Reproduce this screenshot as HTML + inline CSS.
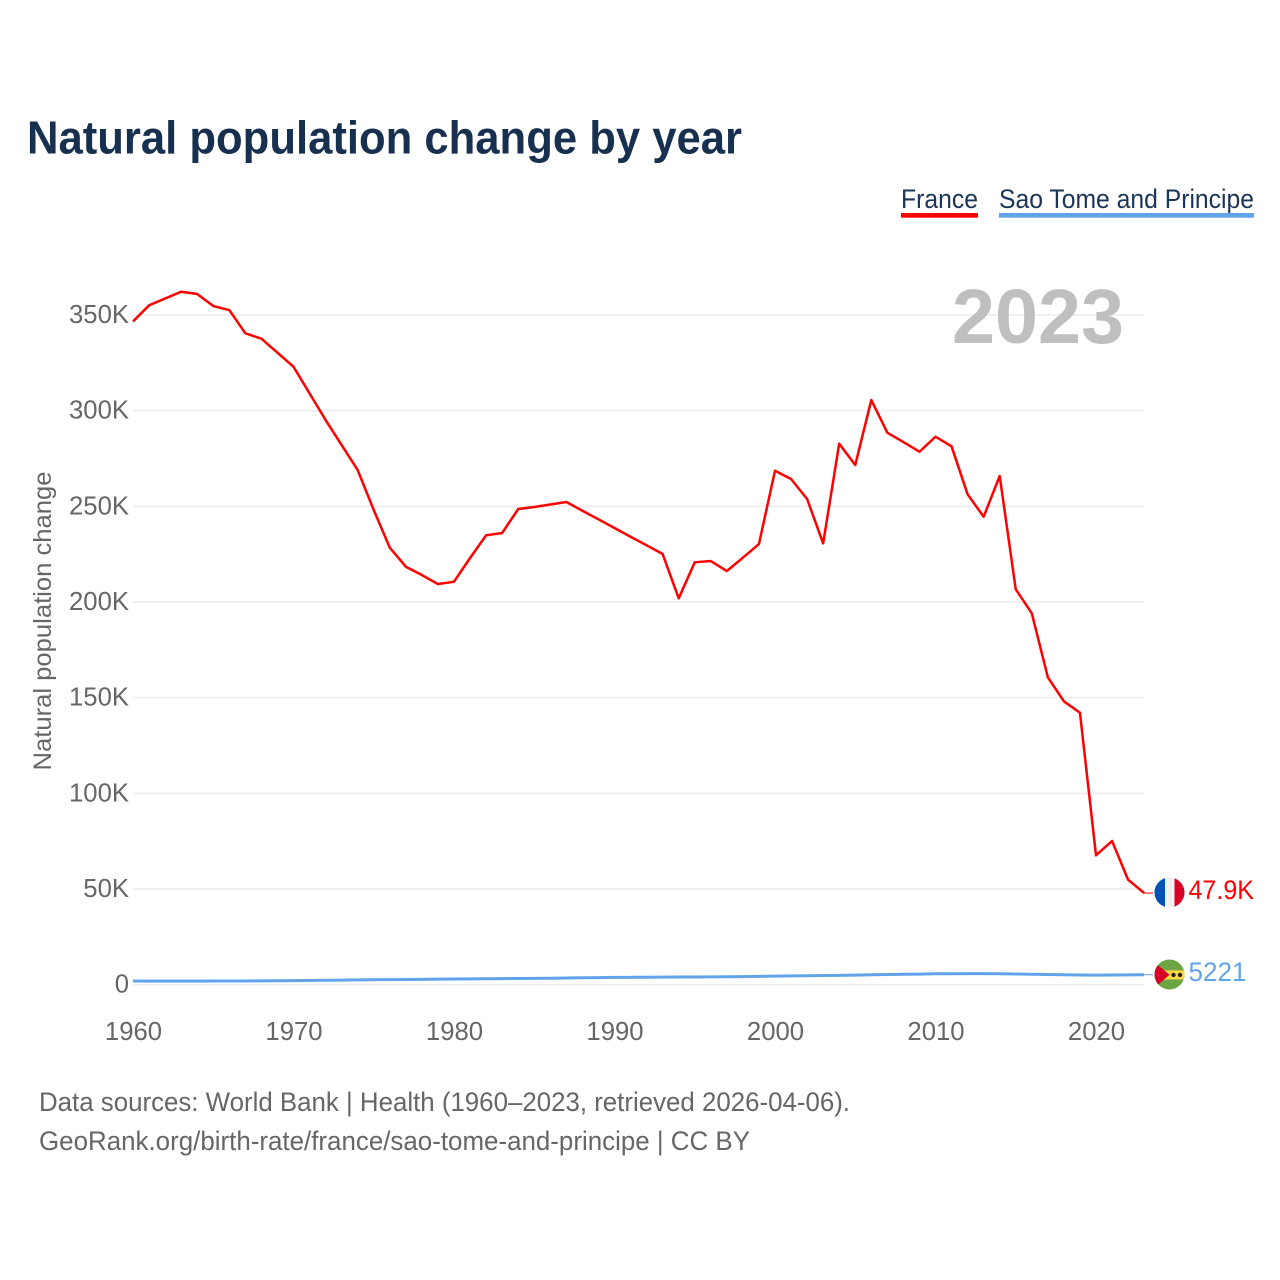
<!DOCTYPE html>
<html lang="en">
<head>
<meta charset="utf-8">
<title>Natural population change by year</title>
<style>
html,body{margin:0;padding:0;background:#fff;width:1280px;height:1280px;overflow:hidden}
svg{display:block;font-family:"Liberation Sans",sans-serif}
</style>
</head>
<body>
<svg id="chart" width="1280" height="1280" viewBox="0 0 1280 1280" xmlns="http://www.w3.org/2000/svg">
  <rect width="1280" height="1280" fill="#fff"/>
  <text x="27" y="153.5" font-size="46" font-weight="700" fill="#17304f" textLength="715" lengthAdjust="spacingAndGlyphs">Natural population change by year</text>

  <g>
    <g>
      <text x="901" y="208" font-size="27" fill="#1a3558" textLength="77" lengthAdjust="spacingAndGlyphs">France</text>
      <rect x="901" y="213" width="77" height="4.7" fill="#ff0000"/>
    </g>
    <g>
      <text x="999" y="208" font-size="27" fill="#1a3558" textLength="255" lengthAdjust="spacingAndGlyphs">Sao Tome and Principe</text>
      <rect x="999" y="213" width="255" height="4.7" fill="#62a4ea"/>
    </g>
  </g>

  <g id="grid"></g>
  <text x="1124" y="343" font-size="77" font-weight="700" fill="#bfbfbf" text-anchor="end" textLength="172" lengthAdjust="spacingAndGlyphs">2023</text>
  <g id="y-labels"></g>
  <g id="x-labels"></g>
  <text transform="translate(51 621) rotate(-90)" font-size="25" fill="#666" text-anchor="middle" textLength="299" lengthAdjust="spacingAndGlyphs">Natural population change</text>

  <g id="series"></g>

  <defs>
    <clipPath id="flag-fr-clip"><circle cx="1169.5" cy="892.5" r="15"/></clipPath>
    <clipPath id="flag-st-clip"><circle cx="1169.5" cy="974.5" r="15"/></clipPath>
  </defs>
  <g clip-path="url(#flag-fr-clip)">
    <rect x="1154" y="877" width="31" height="31" fill="#f0f0f0"/>
    <rect x="1154" y="877" width="11" height="31" fill="#0052b4"/>
    <rect x="1174.5" y="877" width="11" height="31" fill="#d80027"/>
  </g>
  <g clip-path="url(#flag-st-clip)">
    <rect x="1154" y="959" width="31" height="31" fill="#6da544"/>
    <rect x="1154" y="970.4" width="31" height="9" fill="#ffda44"/>
    <polygon points="1154,962 1169.5,974.8 1154,988" fill="#d80027"/>
    <circle cx="1173.5" cy="974.9" r="2.2" fill="#222"/>
    <circle cx="1180" cy="974.9" r="2.2" fill="#222"/>
  </g>
  <text x="1188.5" y="899" font-size="26.5" fill="#ff0000" textLength="65.5" lengthAdjust="spacingAndGlyphs">47.9K</text>
  <text x="1188.5" y="981" font-size="26.5" fill="#62a4ea" textLength="58" lengthAdjust="spacingAndGlyphs">5221</text>

  <text x="39" y="1111" font-size="27" fill="#666" textLength="811" lengthAdjust="spacingAndGlyphs">Data sources: World Bank | Health (1960–2023, retrieved 2026-04-06).</text>
  <text x="39" y="1150" font-size="27" fill="#666" textLength="711" lengthAdjust="spacingAndGlyphs">GeoRank.org/birth-rate/france/sao-tome-and-principe | CC BY</text>
</svg>
<script>
const startYear = 1960;
const franceValues = [346640,355055,358608,362162,360960,354690,352600,340420,337600,330280,322970,309060,295110,282050,268980,248080,228380,218450,214100,209400,210600,223000,234860,236060,248600,249650,250950,252260,247700,243220,238670,234120,229630,225080,201930,220750,221430,216200,223150,230310,268620,264280,253830,230670,282730,271590,305560,288480,283610,278540,286380,281370,256280,244580,265850,206640,194100,160650,148100,142150,67620,75100,54870,47900];
const saoTomeValues = [1900,1850,1850,1850,1850,1900,1900,1950,2000,2050,2100,2200,2300,2400,2500,2600,2650,2700,2800,2900,3000,3050,3100,3200,3250,3300,3350,3500,3600,3700,3800,3850,3900,3950,4000,4050,4100,4150,4200,4350,4500,4600,4700,4800,4900,5000,5200,5350,5450,5550,5700,5750,5800,5800,5750,5600,5450,5300,5200,5100,5000,5050,5150,5221];
const yTickValues = [0,50000,100000,150000,200000,250000,300000,350000];
const yTickLabels = ['0','50K','100K','150K','200K','250K','300K','350K'];
const xTickValues = [1960,1970,1980,1990,2000,2010,2020];
const xTickLabels = ['1960','1970','1980','1990','2000','2010','2020'];

const NS = 'http://www.w3.org/2000/svg';
function xScale(year) { return 133 + (year - 1960) * 16.05; }
function yScale(value) { return 984.7 - value * (669.7 / 350000); }
function make(tag, attrs, parent) {
  const el = document.createElementNS(NS, tag);
  for (const k in attrs) el.setAttribute(k, attrs[k]);
  parent.appendChild(el);
  return el;
}

const grid = document.getElementById('grid');
const yLabels = document.getElementById('y-labels');
yTickValues.forEach(function (v, i) {
  const line = make('line', {x1: xScale(1960), x2: xScale(2023), y1: yScale(v), y2: yScale(v), stroke: '#ececec', 'stroke-width': 1.5}, grid);
  
  
  const t = make('text', {x: 129, y: yScale(v) + 8, 'font-size': 25.7, fill: '#666', 'text-anchor': 'end'}, yLabels);
  
  
  t.textContent = yTickLabels[i];
});

const xLabels = document.getElementById('x-labels');
xTickValues.forEach(function (yr, i) {
  const t = make('text', {x: xScale(yr) + 0.5, y: 1040, 'font-size': 25.7, fill: '#666', 'text-anchor': 'middle'}, xLabels);
  
  
  t.textContent = xTickLabels[i];
});

function pointsFor(values) {
  return values.map(function (v, i) {
    return xScale(startYear + i).toFixed(2) + ',' + yScale(v).toFixed(2);
  }).join(' ');
}
const series = document.getElementById('series');

const saoLine = make('polyline', {points: pointsFor(saoTomeValues), fill: 'none', stroke: '#62a4ea', 'stroke-width': 3, 'stroke-linejoin': 'round'}, series);



const franceLine = make('polyline', {points: pointsFor(franceValues), fill: 'none', stroke: '#ff0000', 'stroke-width': 2.5, 'stroke-linejoin': 'round'}, series);



const lastYear = startYear + franceValues.length - 1;
const frStub = make('line', {x1: xScale(lastYear), x2: 1153, y1: yScale(franceValues[franceValues.length - 1]), y2: yScale(franceValues[franceValues.length - 1]), stroke: '#ff0000', 'stroke-width': 1}, series);



const stStub = make('line', {x1: xScale(lastYear), x2: 1153, y1: yScale(saoTomeValues[saoTomeValues.length - 1]), y2: yScale(saoTomeValues[saoTomeValues.length - 1]), stroke: '#62a4ea', 'stroke-width': 1}, series);


</script>
</body>
</html>
